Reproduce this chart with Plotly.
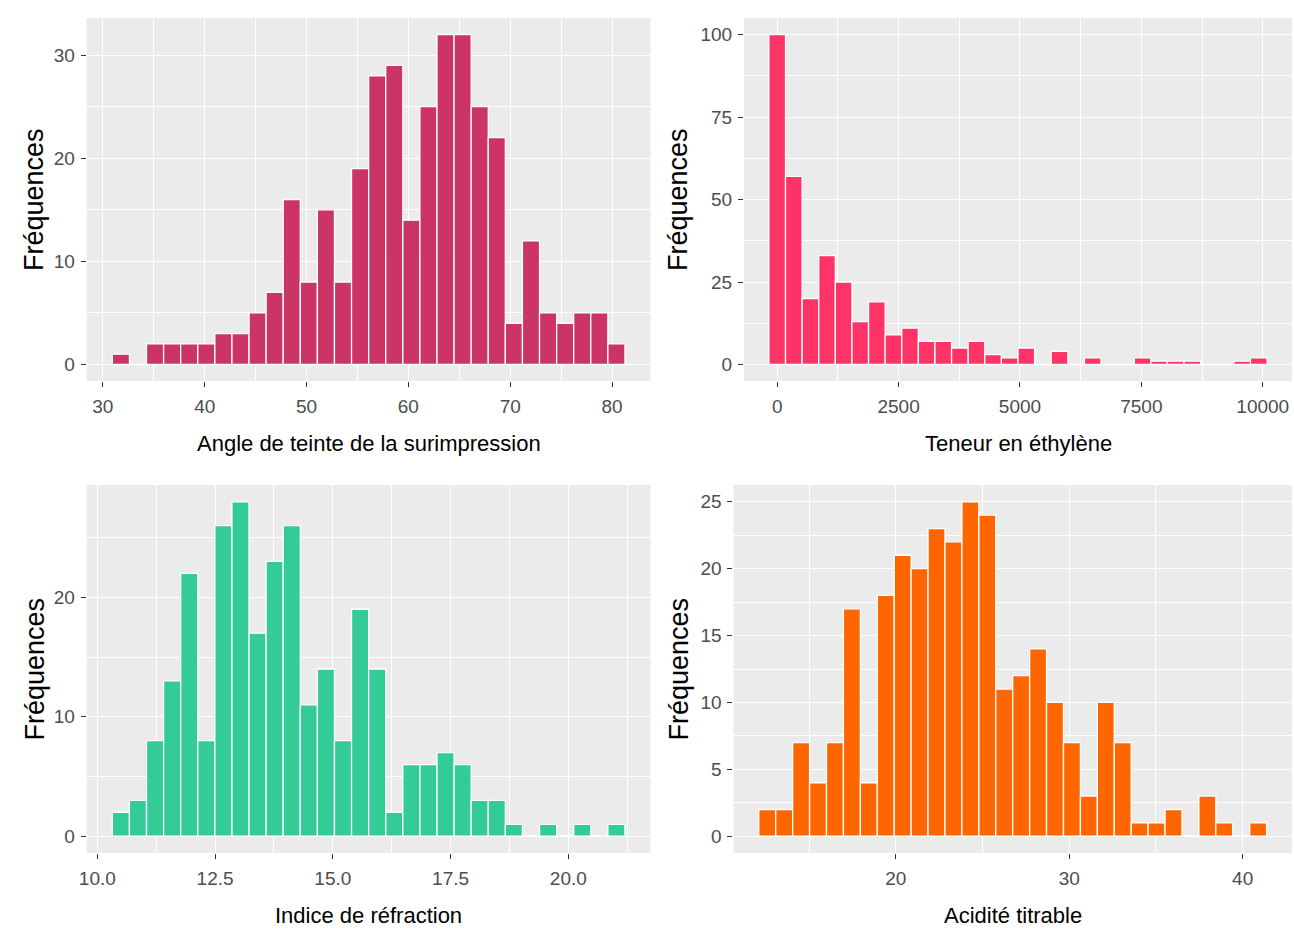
import numpy as np
import plotly.graph_objects as go

# ---------------- data ----------------
angle_counts = [1, 0, 2, 2, 2, 2, 3, 3, 5, 7, 16, 8, 15, 8, 19, 28, 29, 14, 25, 32,
                32, 25, 22, 4, 12, 5, 4, 5, 5, 2]
angle_first_center = 31.77
angle_bin_width = 1.678

ethylene_counts = [100, 57, 20, 33, 25, 13, 19, 9, 11, 7, 7, 5, 7, 3, 2, 5, 0, 4, 0, 2,
                   0, 0, 2, 1, 1, 1, 0, 0, 1, 2]
ethylene_first_center = 0.0
ethylene_bin_width = 342.0

refraction_counts = [2, 3, 8, 13, 22, 8, 26, 28, 17, 23, 26, 11, 14, 8, 19, 14, 2, 6, 6, 7,
                     6, 3, 3, 1, 0, 1, 0, 1, 0, 1]
refraction_first_center = 10.50
refraction_bin_width = 0.3628

acidity_counts = [2, 2, 7, 4, 7, 17, 4, 18, 21, 20, 23, 22, 25, 24, 11, 12, 14, 10, 7, 3,
                  10, 7, 1, 1, 2, 0, 3, 1, 0, 1]
acidity_first_center = 12.59
acidity_bin_width = 0.976

titles = ["Angle de teinte de la surimpression", "Teneur en éthylène",
          "Indice de réfraction", "Acidité titrable"]
y_title = "Fréquences"
colors = ["#CC3366", "#FF3366", "#33CC99", "#FF6600"]

# ---------------- layout geometry ----------------
W, H = 1294, 943
def px(x):
    return x / W
def py(y):
    return 1 - y / H

domains = [
    ([px(86.7), px(650.6)], [py(381), py(18)]),
    ([px(744), px(1292)], [py(381), py(18)]),
    ([px(86.7), px(650.6)], [py(853), py(485)]),
    ([px(733.4), px(1292)], [py(853), py(485)]),
]
xticks = [dict(dtick=10, minor=5, fmt="d"),
          dict(dtick=2500, minor=1250, fmt="d"),
          dict(dtick=2.5, minor=1.25, fmt=".1f"),
          dict(dtick=10, minor=5, fmt="d")]
yticks = [dict(dtick=10, minor=5), dict(dtick=25, minor=12.5),
          dict(dtick=10, minor=5), dict(dtick=5, minor=2.5)]

panels = [
    (angle_counts, angle_first_center, angle_bin_width),
    (ethylene_counts, ethylene_first_center, ethylene_bin_width),
    (refraction_counts, refraction_first_center, refraction_bin_width),
    (acidity_counts, acidity_first_center, acidity_bin_width),
]

TICKFONT = dict(family="Liberation Sans, Arial, sans-serif", size=19, color="#4D4D4D")
TITLEFONT = dict(family="Liberation Sans, Arial, sans-serif", size=22, color="black")
YTITLEFONT = dict(family="Liberation Sans, Arial, sans-serif", size=27, color="black")

fig = go.Figure()
layout = dict(width=W, height=H, margin=dict(l=0, r=0, t=0, b=0, autoexpand=False),
              paper_bgcolor="white", plot_bgcolor="#EBEBEB", showlegend=False,
              annotations=[])

for i, (counts, c0, w) in enumerate(panels):
    n = len(counts)
    centers = c0 + w * np.arange(n)
    ax = "" if i == 0 else str(i + 1)
    fig.add_trace(go.Bar(
        x=centers, y=counts, width=w,
        marker=dict(color=colors[i], line=dict(color="white", width=1.3)),
        xaxis="x" + ax, yaxis="y" + ax, hoverinfo="x+y"))
    lo = c0 - w / 2
    hi = c0 + w * (n - 0.5)
    pad = 0.05 * (hi - lo)
    ymax = max(counts)
    xd, yd = domains[i]
    common = dict(showline=False, zeroline=False, showgrid=True, gridcolor="white",
                  gridwidth=1.4, ticks="outside", ticklen=5, tickwidth=1, automargin=False,
                  tickcolor="#333333", tickfont=TICKFONT, tickmode="linear", tick0=0)
    layout["xaxis" + ax] = dict(common, domain=xd, range=[lo - pad, hi + pad],
                                anchor="y" + ax, dtick=xticks[i]["dtick"],
                                tickformat=xticks[i]["fmt"], ticklabelstandoff=3,
                                minor=dict(dtick=xticks[i]["minor"], tick0=0, showgrid=True,
                                           gridcolor="white", gridwidth=0.7))
    layout["yaxis" + ax] = dict(common, domain=yd, range=[-0.05 * ymax, 1.05 * ymax],
                                anchor="x" + ax, dtick=yticks[i]["dtick"], ticklabelstandoff=2,
                                minor=dict(dtick=yticks[i]["minor"], tick0=0, showgrid=True,
                                           gridcolor="white", gridwidth=0.7))

# axis titles as annotations
title_pos = [(368.6, 443), (1018, 443), (368.6, 915), (1012.7, 915)]
for t, (x, y) in zip(titles, title_pos):
    layout["annotations"].append(dict(text=t, x=px(x), y=py(y), xref="paper", yref="paper",
                                      xanchor="center", yanchor="middle", showarrow=False,
                                      font=TITLEFONT))
ytitle_pos = [(34.5, 199.5), (678.5, 199.5), (34.5, 669), (678.5, 669)]
for (x, y) in ytitle_pos:
    layout["annotations"].append(dict(text=y_title, x=px(x), y=py(y), xref="paper", yref="paper",
                                      xanchor="center", yanchor="middle", showarrow=False,
                                      textangle=-90, font=YTITLEFONT))

fig.update_layout(**layout)
fig.write_html("out.html")
